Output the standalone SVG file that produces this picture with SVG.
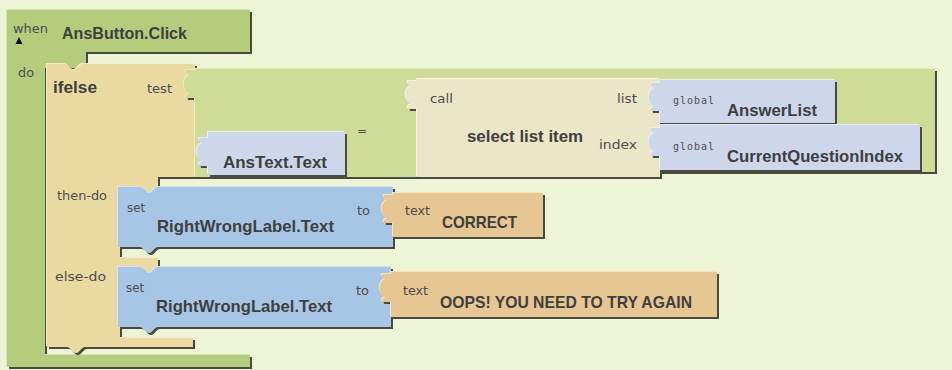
<svg xmlns="http://www.w3.org/2000/svg" xmlns:xlink="http://www.w3.org/1999/xlink" width="952" height="370" viewBox="0 0 952 370">
  <style>
    .sh{fill:#4a4a3e}
    .ev{fill:#b5cc7d}.ev-hl{fill:#d8e6ae}
    .cmp{fill:#cedc98}.cmp-hl{fill:#e6eec4}
    .ife{fill:#eadaa1}.ife-hl{fill:#f7edc9}
    .sel{fill:#eae6c8}.sel-hl{fill:#f7f4e4}
    .get{fill:#cdd6ea}.get-hl{fill:#e9eef8}
    .set{fill:#a7c6e6}.set-hl{fill:#d2e4f6}
    .txt{fill:#e6c692}.txt-hl{fill:#f8e3bb}
    .lbl{font-family:"Liberation Sans",Arial,sans-serif;font-weight:bold;font-size:17px;fill:#3f3f3f}
    .sm{font-family:"DejaVu Sans",Verdana,sans-serif;font-size:12px;fill:#4d4d4d}
    .mono{font-family:"DejaVu Sans Mono","Liberation Mono",monospace;font-size:10px;fill:#4d4d4d}
  </style>
  <defs>
    <path id="p-event" d="M7,10 H250 V52 H86 V68 H45 V355 H250 V367 H7 Z"/>
    <path id="p-ifelse" d="M47,64 H65 c4,0 5,6 9,6 c4,0 5,-6 9,-6 H195 V177 H158 V195 H120 V258 H158 V275 H120 V338 H193 V347 H85 c-4,0 -5,6 -9,6 c-4,0 -5,-6 -9,-6 H47 Z"/>
    <path id="p-compare" d="M195,69 H935 V172 H660 V177 H195 V98 H187 C185,98 185,95 189,93 C182,90 182,78 189,75 C185,73 185,70 187,70 H195 Z"/>
    <path id="p-anstext" d="M208,132 H345 V175 H208 V166 H200 C198,166 198,163 202,161 C195,158 195,146 202,143 C198,141 198,138 200,138 H208 Z"/>
    <path id="p-select" d="M417,79 H660 V177 H417 V109 H409 C407,109 407,106 411,104 C404,101 404,89 411,86 C407,84 407,81 409,81 H417 Z"/>
    <path id="p-answerlist" d="M660,80 H835 V123 H660 V111 H652 C650,111 650,108 654,106 C647,103 647,91 654,88 C650,86 650,83 652,83 H660 Z"/>
    <path id="p-cqi" d="M660,125 H920 V170 H660 V156 H652 C650,156 650,153 654,151 C647,148 647,136 654,133 C650,131 650,128 652,128 H660 Z"/>
    <path id="p-set1" d="M118,187 H140 c4,0 5,6 9,6 c4,0 5,-6 9,-6 H393 V247 H158 c-4,0 -5,6 -9,6 c-4,0 -5,-6 -9,-6 H118 Z"/>
    <path id="p-set2" d="M118,267 H140 c4,0 5,6 9,6 c4,0 5,-6 9,-6 H391 V327 H158 c-4,0 -5,6 -9,6 c-4,0 -5,-6 -9,-6 H118 Z"/>
    <path id="p-correct" d="M393,193 H543 V237 H393 V223 H385 C383,223 383,220 387,218 C380,215 380,203 387,200 C383,198 383,195 385,195 H393 Z"/>
    <path id="p-oops" d="M391,272 H717 V317 H391 V302 H383 C381,302 381,299 385,297 C378,294 378,282 385,279 C381,277 381,274 383,274 H391 Z"/>
  </defs>

  <rect x="0" y="0" width="952" height="370" fill="#eef4d6"/>

  <!-- event handler: when AnsButton.Click do -->
  <g id="when-ansbutton-click">
    <use href="#p-event" class="sh" transform="translate(2,2)"/>
    <use href="#p-event" class="ev-hl" transform="translate(-1,-1)"/>
    <use href="#p-event" class="ev"/>
    <text class="sm" x="13" y="33" font-size="10" textLength="35" lengthAdjust="spacingAndGlyphs">when</text>
    <polygon points="19,37 15.5,44 22.5,44" fill="#111"/>
    <text class="lbl" x="62" y="39" textLength="125" lengthAdjust="spacingAndGlyphs">AnsButton.Click</text>
    <text class="sm" x="18" y="77" textLength="16" lengthAdjust="spacingAndGlyphs">do</text>
  </g>

  <!-- ifelse statement -->
  <g id="ifelse">
    <use href="#p-ifelse" class="sh" transform="translate(2,2)"/>
    <use href="#p-ifelse" class="ife-hl" transform="translate(-1,-1)"/>
    <use href="#p-ifelse" class="ife"/>
    <text class="lbl" x="53" y="93" textLength="44" lengthAdjust="spacingAndGlyphs">ifelse</text>
    <text class="sm" x="147" y="93" textLength="25" lengthAdjust="spacingAndGlyphs">test</text>
    <text class="sm" x="57" y="200" textLength="50" lengthAdjust="spacingAndGlyphs">then-do</text>
    <text class="sm" x="55" y="281" textLength="51" lengthAdjust="spacingAndGlyphs">else-do</text>
  </g>

  <!-- equality test -->
  <g id="compare-equal">
    <use href="#p-compare" class="sh" transform="translate(2,2)"/>
    <use href="#p-compare" class="cmp-hl" transform="translate(-1,-1)"/>
    <use href="#p-compare" class="cmp"/>
    <text class="sm" x="357" y="135" font-size="13">=</text>
  </g>

  <!-- AnsText.Text getter -->
  <g id="anstext-text">
    <use href="#p-anstext" class="sh" transform="translate(2,2)"/>
    <use href="#p-anstext" class="get-hl" transform="translate(-1,-1)"/>
    <use href="#p-anstext" class="get"/>
    <text class="lbl" x="223" y="168" textLength="104" lengthAdjust="spacingAndGlyphs">AnsText.Text</text>
  </g>

  <!-- call select list item -->
  <g id="select-list-item">
    <use href="#p-select" class="sh" transform="translate(2,2)"/>
    <use href="#p-select" class="sel-hl" transform="translate(-1,-1)"/>
    <use href="#p-select" class="sel"/>
    <text class="sm" x="430" y="103" textLength="23" lengthAdjust="spacingAndGlyphs">call</text>
    <text class="sm" x="617" y="103" textLength="20" lengthAdjust="spacingAndGlyphs">list</text>
    <text class="lbl" x="467" y="142" textLength="116" lengthAdjust="spacingAndGlyphs">select list item</text>
    <text class="sm" x="599" y="149" textLength="38" lengthAdjust="spacingAndGlyphs">index</text>
  </g>

  <!-- global AnswerList -->
  <g id="global-answerlist">
    <use href="#p-answerlist" class="sh" transform="translate(2,2)"/>
    <use href="#p-answerlist" class="get-hl" transform="translate(-1,-1)"/>
    <use href="#p-answerlist" class="get"/>
    <text class="mono" x="673" y="104" textLength="41" lengthAdjust="spacing">global</text>
    <text class="lbl" x="727" y="116" textLength="90" lengthAdjust="spacingAndGlyphs">AnswerList</text>
  </g>

  <!-- global CurrentQuestionIndex -->
  <g id="global-currentquestionindex">
    <use href="#p-cqi" class="sh" transform="translate(2,2)"/>
    <use href="#p-cqi" class="get-hl" transform="translate(-1,-1)"/>
    <use href="#p-cqi" class="get"/>
    <text class="mono" x="673" y="150" textLength="41" lengthAdjust="spacing">global</text>
    <text class="lbl" x="727" y="162" textLength="176" lengthAdjust="spacingAndGlyphs">CurrentQuestionIndex</text>
  </g>

  <!-- then-do: set RightWrongLabel.Text -->
  <g id="set-label-correct">
    <use href="#p-set1" class="sh" transform="translate(2,2)"/>
    <use href="#p-set1" class="set-hl" transform="translate(-1,-1)"/>
    <use href="#p-set1" class="set"/>
    <text class="sm" x="127" y="212" textLength="18" lengthAdjust="spacingAndGlyphs">set</text>
    <text class="lbl" x="157" y="232" textLength="177" lengthAdjust="spacingAndGlyphs">RightWrongLabel.Text</text>
    <text class="sm" x="357" y="215" textLength="13" lengthAdjust="spacingAndGlyphs">to</text>
  </g>

  <!-- text CORRECT -->
  <g id="text-correct">
    <use href="#p-correct" class="sh" transform="translate(2,2)"/>
    <use href="#p-correct" class="txt-hl" transform="translate(-1,-1)"/>
    <use href="#p-correct" class="txt"/>
    <text class="sm" x="405" y="215" textLength="25" lengthAdjust="spacingAndGlyphs">text</text>
    <text class="lbl" x="442" y="228" textLength="75" lengthAdjust="spacingAndGlyphs">CORRECT</text>
  </g>

  <!-- else-do: set RightWrongLabel.Text -->
  <g id="set-label-oops">
    <use href="#p-set2" class="sh" transform="translate(2,2)"/>
    <use href="#p-set2" class="set-hl" transform="translate(-1,-1)"/>
    <use href="#p-set2" class="set"/>
    <text class="sm" x="126" y="292" textLength="18" lengthAdjust="spacingAndGlyphs">set</text>
    <text class="lbl" x="156" y="312" textLength="176" lengthAdjust="spacingAndGlyphs">RightWrongLabel.Text</text>
    <text class="sm" x="356" y="295" textLength="13" lengthAdjust="spacingAndGlyphs">to</text>
  </g>

  <!-- text OOPS! YOU NEED TO TRY AGAIN -->
  <g id="text-oops">
    <use href="#p-oops" class="sh" transform="translate(2,2)"/>
    <use href="#p-oops" class="txt-hl" transform="translate(-1,-1)"/>
    <use href="#p-oops" class="txt"/>
    <text class="sm" x="403" y="295" textLength="25" lengthAdjust="spacingAndGlyphs">text</text>
    <text class="lbl" x="440" y="308" textLength="252" lengthAdjust="spacingAndGlyphs">OOPS! YOU NEED TO TRY AGAIN</text>
  </g>
</svg>
